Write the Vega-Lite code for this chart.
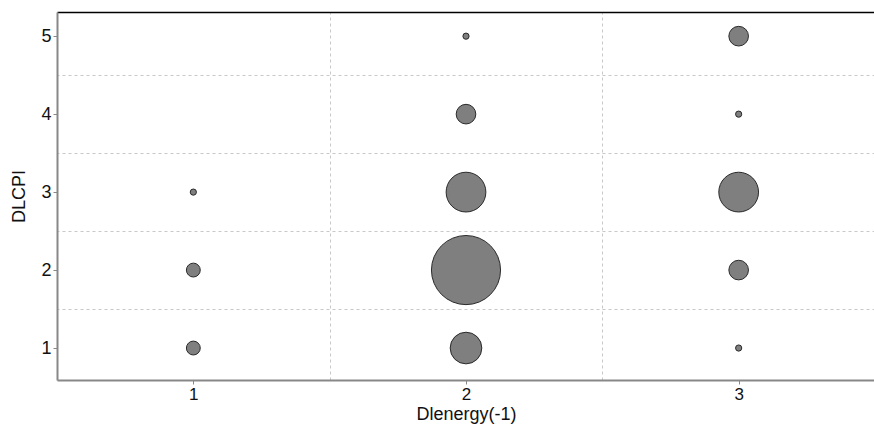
{
  "$schema": "https://vega.github.io/schema/vega-lite/v6.json",
  "width": 818,
  "height": 368,
  "autosize": {"type": "none"},
  "padding": {"left": 57, "top": 12, "right": 0, "bottom": 46},
  "background": "white",
  "config": {
    "view": {"stroke": null},
    "font": "Liberation Sans"
  },
  "data": {
    "values": [
      {"Dlenergy": 1, "DLCPI": 1, "count": 5},
      {"Dlenergy": 1, "DLCPI": 2, "count": 5},
      {"Dlenergy": 1, "DLCPI": 3, "count": 1},
      {"Dlenergy": 2, "DLCPI": 1, "count": 26},
      {"Dlenergy": 2, "DLCPI": 2, "count": 124},
      {"Dlenergy": 2, "DLCPI": 3, "count": 41},
      {"Dlenergy": 2, "DLCPI": 4, "count": 10},
      {"Dlenergy": 2, "DLCPI": 5, "count": 1},
      {"Dlenergy": 3, "DLCPI": 1, "count": 1},
      {"Dlenergy": 3, "DLCPI": 2, "count": 10},
      {"Dlenergy": 3, "DLCPI": 3, "count": 41},
      {"Dlenergy": 3, "DLCPI": 4, "count": 1},
      {"Dlenergy": 3, "DLCPI": 5, "count": 10}
    ]
  },
  "layer": [
    {
      "mark": {"type": "circle", "opacity": 0},
      "encoding": {
        "x": {
          "field": "Dlenergy", "type": "quantitative",
          "scale": {"domain": [0.5, 3.5], "nice": false, "zero": false},
          "axis": {
            "orient": "top", "title": null, "labels": false, "ticks": false,
            "values": [1.5, 2.5],
            "grid": true, "gridColor": "#c8c8c8", "gridDash": [3, 3],
            "domainColor": "black", "domainWidth": 1.5
          }
        },
        "y": {
          "field": "DLCPI", "type": "quantitative",
          "scale": {"domain": [0.59, 5.31], "nice": false, "zero": false},
          "axis": {
            "orient": "right", "title": null, "labels": false, "ticks": false, "domain": false,
            "values": [1.5, 2.5, 3.5, 4.5],
            "grid": true, "gridColor": "#c8c8c8", "gridDash": [3, 3]
          }
        }
      }
    },
    {
      "mark": {"type": "circle", "fill": "#7f7f7f", "fillOpacity": 1, "stroke": "#2a2a2a", "strokeWidth": 1},
      "encoding": {
        "x": {
          "field": "Dlenergy", "type": "quantitative",
          "axis": {
            "orient": "bottom",
            "title": "Dlenergy(-1)", "titleFontSize": 18, "titleFontWeight": "normal", "titleColor": "#111",
            "titlePadding": 3,
            "values": [1, 1.5, 2, 2.5, 3],
            "format": "d",
            "labelExpr": "datum.value % 1 === 0 ? datum.label : ''",
            "labelFontSize": 17, "labelColor": "#111", "labelPadding": 2,
            "domainColor": "#888", "domainWidth": 2,
            "tickColor": "#888", "tickSize": 4,
            "grid": false
          }
        },
        "y": {
          "field": "DLCPI", "type": "quantitative",
          "axis": {
            "orient": "left",
            "title": "DLCPI", "titleFontSize": 18, "titleFontWeight": "normal", "titleColor": "#111",
            "titlePadding": 12,
            "values": [1, 1.5, 2, 2.5, 3, 3.5, 4, 4.5, 5],
            "format": "d",
            "labelExpr": "datum.value % 1 === 0 ? datum.label : ''",
            "labelFontSize": 18, "labelColor": "#111", "labelPadding": 2,
            "domainColor": "#888", "domainWidth": 2,
            "tickColor": "#888", "tickSize": 4,
            "grid": false
          }
        },
        "size": {
          "field": "count", "type": "quantitative",
          "scale": {"type": "linear", "domain": [0, 124], "range": [0, 4778], "zero": true},
          "legend": null
        }
      }
    }
  ],
  "resolve": {"axis": {"x": "independent", "y": "independent"}}
}
